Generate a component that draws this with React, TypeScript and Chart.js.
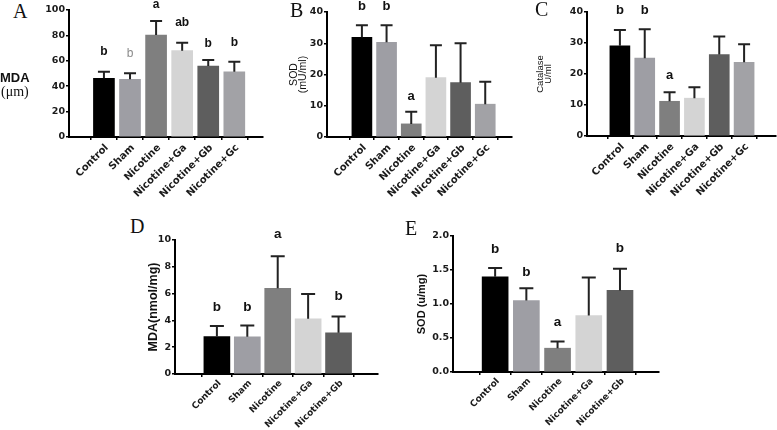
import React, { useEffect, useRef } from "react";
import { Chart, registerables } from "chart.js";
Chart.register(...registerables);

// ---------- data ----------
const categories6 = ["Control", "Sham", "Nicotine", "Nicotine+Ga", "Nicotine+Gb", "Nicotine+Gc"];
const categories5 = ["Control", "Sham", "Nicotine", "Nicotine+Ga", "Nicotine+Gb"];

// A: MDA (µm)
const mdaSerum = [46.2, 45.4, 80.3, 68.0, 55.9, 51.4];
const mdaSerumErr = [51.4, 50.1, 91.3, 74.3, 60.6, 59.3];
const mdaSerumLetters = ["b", "b", "a", "ab", "b", "b"];
const mdaSerumLetterY = [67.2, 65.9, 104, 90, 73.8, 74.3];

// B: SOD (mU/ml)
const sodSerum = [31.9, 30.3, 4.2, 19.0, 17.4, 10.5];
const sodSerumErr = [35.8, 35.8, 8.1, 29.4, 30.0, 17.7];
const sodSerumLetters = ["b", "b", "a", "", "", ""];
const sodSerumLetterY = [41.7, 41.7, 12.9, 0, 0, 0];

// C: Catalase U/ml
const catalase = [29.1, 25.1, 11.2, 12.2, 26.3, 23.8];
const catalaseErr = [34.2, 34.4, 14.1, 15.7, 32.1, 29.6];
const catalaseLetters = ["b", "b", "a", "", "", ""];
const catalaseLetterY = [40.6, 40.6, 19.4, 0, 0, 0];

// D: MDA (nmol/mg)
const mdaTissue = [2.8, 2.78, 6.39, 4.12, 3.08];
const mdaTissueErr = [3.58, 3.62, 8.78, 5.97, 4.3];
const mdaTissueLetters = ["b", "b", "a", "", "b"];
const mdaTissueLetterY = [4.98, 4.98, 10.45, 0, 5.77];

// E: SOD (u/mg)
const sodTissue = [1.4, 1.05, 0.35, 0.83, 1.2];
const sodTissueErr = [1.53, 1.23, 0.45, 1.39, 1.52];
const sodTissueLetters = ["b", "b", "a", "", "b"];
const sodTissueLetterY = [1.81, 1.46, 0.73, 0, 1.82];

// ---------- styles ----------
const barColors = ["#000000", "#9e9ea4", "#7f7f7f", "#d4d4d4", "#5e5e5e", "#a2a2a6"];
const SANS = "'DejaVu Sans', Verdana, sans-serif";
const ARIAL = "'Liberation Sans', Arial, Helvetica, sans-serif";
const SERIF = "'Liberation Serif', 'Times New Roman', serif";

type Panel = {
  box: { left: number; top: number; width: number; height: number };
  axisX: number; plotTop: number; plotBottom: number; plotRight: number;
  xMin: number; xMax: number;
  barThickness: number; capWidth: number;
  categories: string[]; values: number[]; errors: number[];
  letters: string[]; letterY: number[]; letterColors?: string[]; letterWeights?: string[];
  letterSize: number;
  yMax: number; yStep: number; decimals: number;
  tickSize: number; xTickSize: number; rotation: number; xPad: number;
  title?: string | string[]; titleSize?: number; titleWeight?: string; titlePad?: number; titleLH?: number;
};

const panels: Panel[] = [
  {
    box: { left: 30, top: 0, width: 240, height: 215 },
    axisX: 69, plotTop: 10, plotBottom: 137, plotRight: 263,
    xMin: -0.72, xMax: 5.48, barThickness: 21, capWidth: 12,
    categories: categories6, values: mdaSerum, errors: mdaSerumErr,
    letters: mdaSerumLetters, letterY: mdaSerumLetterY,
    letterColors: ["#111", "#8a8a8a", "#111", "#111", "#111", "#111"],
    letterWeights: ["bold", "normal", "bold", "bold", "bold", "bold"],
    letterSize: 12, yMax: 100, yStep: 20, decimals: 0, tickSize: 9.5, xTickSize: 10, rotation: 45, xPad: 2,
  },
  {
    box: { left: 280, top: 0, width: 240, height: 215 },
    axisX: 327, plotTop: 12, plotBottom: 137, plotRight: 512,
    xMin: -0.79, xMax: 5.46, barThickness: 20, capWidth: 12,
    categories: categories6, values: sodSerum, errors: sodSerumErr,
    letters: sodSerumLetters, letterY: sodSerumLetterY,
    letterSize: 13, yMax: 40, yStep: 10, decimals: 0, tickSize: 9.5, xTickSize: 10, rotation: 45, xPad: 2,
    title: ["SOD", "(mU/ml)"], titleSize: 10.5, titleWeight: "normal", titlePad: 10, titleLH: 0.85,
  },
  {
    box: { left: 530, top: 0, width: 247, height: 215 },
    axisX: 587, plotTop: 12, plotBottom: 136, plotRight: 776,
    xMin: -0.69, xMax: 5.65, barThickness: 20, capWidth: 12,
    categories: categories6, values: catalase, errors: catalaseErr,
    letters: catalaseLetters, letterY: catalaseLetterY,
    letterSize: 13, yMax: 40, yStep: 10, decimals: 0, tickSize: 9.5, xTickSize: 10, rotation: 45, xPad: 2,
    title: ["Catalase", "U/ml"], titleSize: 9.5, titleWeight: "normal", titlePad: 6, titleLH: 0.9,
  },
  {
    box: { left: 145, top: 215, width: 240, height: 215 },
    axisX: 175, plotTop: 240, plotBottom: 374, plotRight: 378,
    xMin: -0.71, xMax: 4.63, barThickness: 26, capWidth: 14,
    categories: categories5, values: mdaTissue, errors: mdaTissueErr,
    letters: mdaTissueLetters, letterY: mdaTissueLetterY,
    letterSize: 13.5, yMax: 10, yStep: 2, decimals: 0, tickSize: 9.5, xTickSize: 9, rotation: 45, xPad: 1,
    title: "MDA(nmol/mg)", titleSize: 12.5, titleWeight: "bold", titlePad: 1, titleLH: 1.2,
  },
  {
    box: { left: 412, top: 215, width: 255, height: 215 },
    axisX: 453, plotTop: 236, plotBottom: 372, plotRight: 659,
    xMin: -0.69, xMax: 4.59, barThickness: 26, capWidth: 14,
    categories: categories5, values: sodTissue, errors: sodTissueErr,
    letters: sodTissueLetters, letterY: sodTissueLetterY,
    letterSize: 13.5, yMax: 2, yStep: 0.5, decimals: 1, tickSize: 9.5, xTickSize: 9, rotation: 45, xPad: 1,
    title: "SOD (u/mg)", titleSize: 11, titleWeight: "bold", titlePad: 3.5, titleLH: 1.2,
  },
];

function makeAnnotator(cfg: Panel) {
  return {
    id: "errAndLetters",
    afterDatasetsDraw(chart: any) {
      const ctx = chart.ctx as CanvasRenderingContext2D;
      const yScale = chart.scales.y;
      const meta = chart.getDatasetMeta(0);
      ctx.save();
      ctx.strokeStyle = "#222";
      ctx.lineWidth = 2;
      meta.data.forEach((el: any, i: number) => {
        const x = el.x;
        const yTop = yScale.getPixelForValue(cfg.errors[i]);
        ctx.beginPath();
        ctx.moveTo(x, el.y);
        ctx.lineTo(x, yTop);
        ctx.moveTo(x - cfg.capWidth / 2, yTop);
        ctx.lineTo(x + cfg.capWidth / 2, yTop);
        ctx.stroke();
      });
      ctx.textAlign = "center";
      ctx.textBaseline = "middle";
      meta.data.forEach((el: any, i: number) => {
        const t = cfg.letters[i];
        if (!t) return;
        const w = cfg.letterWeights ? cfg.letterWeights[i] : "bold";
        ctx.fillStyle = cfg.letterColors ? cfg.letterColors[i] : "#111";
        ctx.font = `${w} ${cfg.letterSize}px ${ARIAL}`;
        ctx.fillText(t, el.x, yScale.getPixelForValue(cfg.letterY[i]));
      });
      ctx.restore();
    },
  };
}

function BarPanel({ cfg }: { cfg: Panel }) {
  const ref = useRef<HTMLCanvasElement>(null);
  useEffect(() => {
    const { box } = cfg;
    const chart = new Chart(ref.current!, {
      type: "bar",
      data: {
        datasets: [
          {
            data: cfg.values.map((v, i) => ({ x: i, y: v })) as any,
            backgroundColor: barColors.slice(0, cfg.values.length),
            borderWidth: 0,
            barThickness: cfg.barThickness,
          },
        ],
      },
      options: {
        responsive: false,
        animation: false,
        layout: {
          padding: {
            left: 0,
            top: cfg.plotTop - box.top,
            right: box.left + box.width - cfg.plotRight,
            bottom: 0,
          },
        },
        plugins: { legend: { display: false }, tooltip: { enabled: false } },
        scales: {
          x: {
            type: "linear",
            min: cfg.xMin,
            max: cfg.xMax,
            afterFit: (s: any) => {
              s.height = box.top + box.height - cfg.plotBottom;
            },
            border: { display: true, color: "#000", width: 2 },
            grid: { display: true, drawOnChartArea: false, drawTicks: true, tickLength: 3, color: "#000", lineWidth: 1.5 },
            ticks: {
              stepSize: 1,
              includeBounds: false,
              autoSkip: false,
              minRotation: cfg.rotation,
              maxRotation: cfg.rotation,
              padding: cfg.xPad,
              labelOffset: 3,
              color: "#1a1a1a",
              font: { family: SANS, size: cfg.xTickSize, weight: "bold" },
              callback: (v: any) => cfg.categories[Math.round(Number(v))] ?? "",
            },
          },
          y: {
            type: "linear",
            min: 0,
            max: cfg.yMax,
            afterFit: (s: any) => {
              s.width = cfg.axisX - box.left;
            },
            border: { display: true, color: "#000", width: 2 },
            grid: { display: true, drawOnChartArea: false, drawTicks: true, tickLength: 3, color: "#000", lineWidth: 1.5 },
            ticks: {
              stepSize: cfg.yStep,
              padding: 1,
              color: "#1a1a1a",
              font: { family: SANS, size: cfg.tickSize, weight: "bold" },
              callback: (v: any) => Number(v).toFixed(cfg.decimals),
            },
            title: {
              display: !!cfg.title,
              text: cfg.title as any,
              color: "#111",
              font: { family: ARIAL, size: cfg.titleSize, weight: cfg.titleWeight as any, lineHeight: cfg.titleLH },
              padding: { top: cfg.titlePad ?? 0, bottom: 0 },
            },
          },
        },
      },
      plugins: [makeAnnotator(cfg)],
    });
    return () => chart.destroy();
  }, [cfg]);
  return (
    <canvas
      ref={ref}
      width={cfg.box.width}
      height={cfg.box.height}
      style={{
        position: "absolute",
        left: cfg.box.left,
        top: cfg.box.top,
        width: cfg.box.width,
        height: cfg.box.height,
      }}
    />
  );
}

const panelLetters = [
  { t: "A", left: 13, top: 1 },
  { t: "B", left: 290, top: 0 },
  { t: "C", left: 535, top: -1 },
  { t: "D", left: 130, top: 216 },
  { t: "E", left: 405, top: 218 },
];

export default function App() {
  return (
    <div
      style={{
        position: "absolute",
        left: 0,
        top: 0,
        width: 777,
        height: 430,
        background: "#fff",
        overflow: "hidden",
      }}
    >
      {panels.map((p, i) => (
        <BarPanel key={i} cfg={p} />
      ))}
      {panelLetters.map((l) => (
        <div
          key={l.t}
          style={{
            position: "absolute",
            left: l.left,
            top: l.top,
            fontFamily: SERIF,
            fontSize: 20,
            lineHeight: 1,
            color: "#111",
          }}
        >
          {l.t}
        </div>
      ))}
      <div
        style={{
          position: "absolute",
          left: 0,
          top: 71,
          fontFamily: ARIAL,
          fontWeight: "bold",
          fontSize: 13,
          lineHeight: 1,
          color: "#111",
        }}
      >
        MDA
      </div>
      <div
        style={{
          position: "absolute",
          left: 1,
          top: 85,
          fontFamily: SERIF,
          fontSize: 14,
          lineHeight: 1,
          color: "#111",
        }}
      >
        (μm)
      </div>
    </div>
  );
}
